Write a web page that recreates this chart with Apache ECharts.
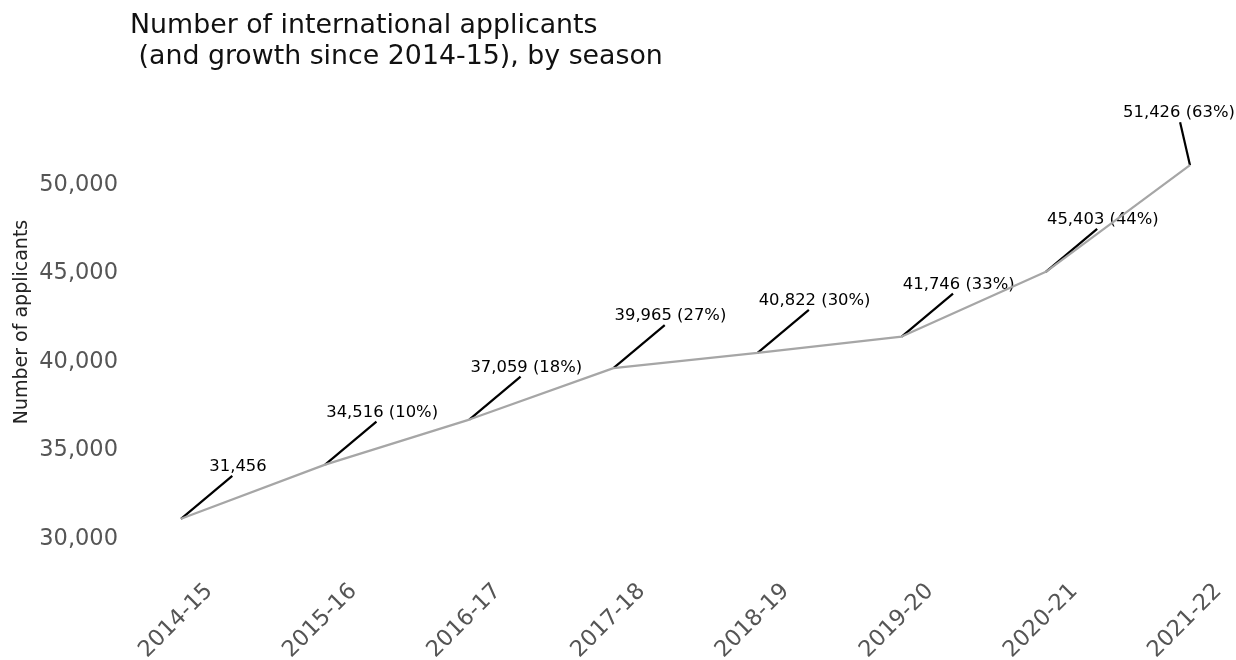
<!DOCTYPE html>
<html>
<head>
<meta charset="utf-8">
<script src="https://cdn.jsdelivr.net/npm/echarts@6/dist/echarts.min.js"></script>
<style>
  html, body { margin: 0; padding: 0; background: #fff; }
  #main { width: 1236px; height: 660px; }
</style>
</head>
<body>
<div id="main"></div>
<script>
var seasons = ['2014-15', '2015-16', '2016-17', '2017-18', '2018-19', '2019-20', '2020-21', '2021-22']
var applicants = [31456, 34516, 37059, 39965, 40822, 41746, 45403, 51426]
var yTicks = [30000, 35000, 40000, 45000, 50000]

var chart = echarts.init(document.getElementById('main'))
var font = 'DejaVu Sans'

function fmt(v) {
    return v.toLocaleString('en-US')
}

// label text: value and growth against first season
function labelText(i) {
    if (i === 0) return fmt(applicants[0])
    var g = Math.round((applicants[i] / applicants[0] - 1) * 100)
    return fmt(applicants[i]) + ' (' + g + '%)'
}

var option = {
    backgroundColor: '#fff',
    animation: false,
    title: {
        text: 'Number of international applicants\n (and growth since 2014-15), by season',
        left: 125,
        top: 6,
        textStyle: { fontFamily: font, fontSize: 26.8, fontWeight: 'normal', color: '#111', lineHeight: 31 }
    },
    grid: { left: 181, right: 46, top: 155, bottom: 80, outerBoundsMode: 'none' },
    xAxis: {
        type: 'category',
        data: seasons,
        boundaryGap: false,
        axisLine: { show: false },
        axisTick: { show: false },
        splitLine: { show: false },
        axisLabel: {
            rotate: 45,
            align: 'center',
            verticalAlign: 'middle',
            margin: 36,
            padding: [0, 14, 0, 0],
            fontFamily: font,
            fontSize: 22.5,
            color: '#555'
        }
    },
    yAxis: {
        type: 'value',
        min: 28000,
        max: 52000,
        axisLine: { show: false },
        axisTick: { show: false },
        splitLine: { show: false },
        axisLabel: {
            customValues: yTicks,
            margin: 63,
            verticalAlign: 'bottom',
            lineHeight: 11,
            fontFamily: font,
            fontSize: 22.5,
            color: '#555',
            formatter: function (v) { return fmt(v) }
        }
    },
    graphic: [{
        type: 'text',
        x: 22,
        y: 322,
        rotation: Math.PI / 2,
        style: {
            text: 'Number of applicants',
            fontFamily: font,
            fontSize: 19,
            fill: '#222',
            align: 'center',
            verticalAlign: 'middle'
        }
    }],
    series: [{
        type: 'line',
        data: applicants,
        symbol: 'none',
        clip: false,
        lineStyle: { color: '#a6a6a6', width: 2.2 }
    }, {
        type: 'custom',
        clip: false,
        data: applicants.map(function (v, i) { return [i, v] }),
        renderItem: function (params, api) {
            var i = params.dataIndex
            var p = api.coord([api.value(0), api.value(1)])
            // text offset, last label pushed left
            var dx = i === seasons.length - 1 ? -11 : 57
            var dy = -52
            return {
                type: 'group',
                children: [{
                    type: 'line',
                    shape: { x1: p[0], y1: p[1], x2: p[0] + dx * 0.9, y2: p[1] - 43 },
                    style: { stroke: '#000', lineWidth: 2.2 }
                }, {
                    type: 'text',
                    style: {
                        x: p[0] + dx,
                        y: p[1] + dy,
                        text: labelText(i),
                        align: 'center',
                        verticalAlign: 'middle',
                        fontFamily: font,
                        fontSize: 16.4,
                        fill: '#000'
                    }
                }]
            }
        }
    }]
}

chart.setOption(option)
</script>
</body>
</html>
